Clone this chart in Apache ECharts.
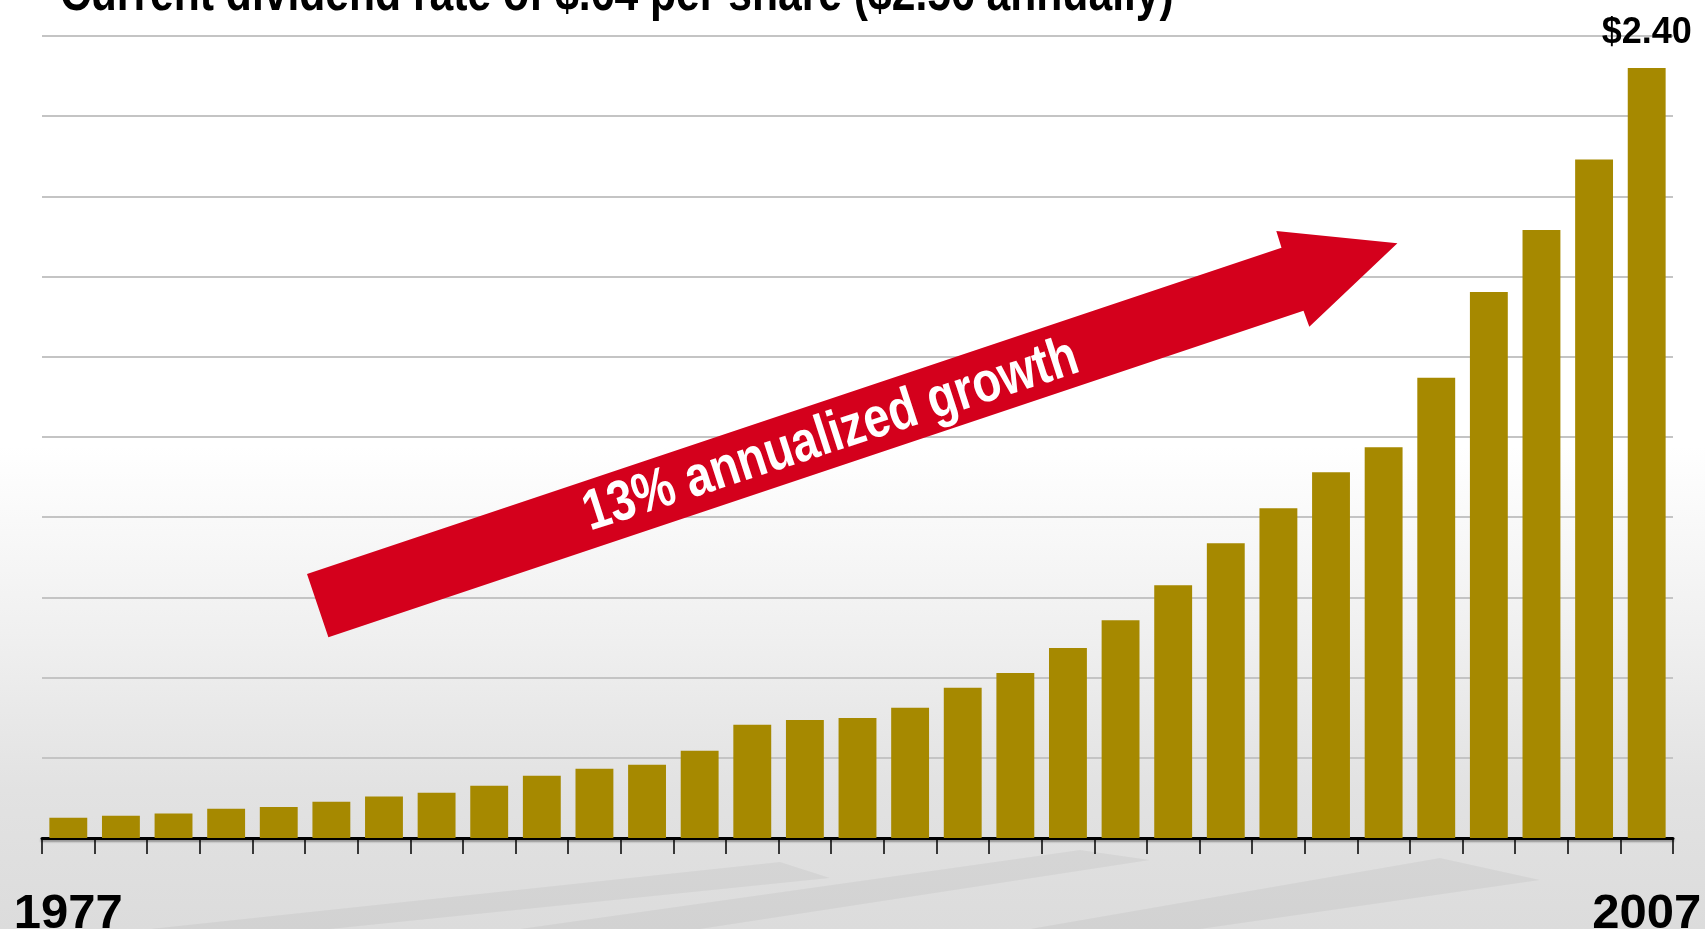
<!DOCTYPE html>
<html>
<head>
<meta charset="utf-8">
<script src="https://cdn.jsdelivr.net/npm/echarts@6/dist/echarts.min.js"></script>
<style>
html,body{margin:0;padding:0;background:#fff;}
#chart{width:1705px;height:929px;}
</style>
</head>
<body>
<div id="chart"></div>
<script>
// ---- data ----
const years = [1977,1978,1979,1980,1981,1982,1983,1984,1985,1986,1987,1988,1989,1990,1991,1992,1993,1994,1995,1996,1997,1998,1999,2000,2001,2002,2003,2004,2005,2006,2007];
const dividends = [0.063,0.069,0.076,0.091,0.097,0.113,0.129,0.141,0.163,0.194,0.216,0.228,0.272,0.353,0.368,0.374,0.406,0.468,0.514,0.592,0.679,0.788,0.919,1.028,1.140,1.218,1.435,1.702,1.895,2.115,2.40];
const yTicks = [0,0.25,0.5,0.75,1,1.25,1.5,1.75,2,2.25,2.5];
const titleText = 'Current dividend rate of $.64 per share ($2.56 annually)';
const lastLabel = '$2.40';
const arrowText = '13% annualized growth';

const chart = echarts.init(document.getElementById('chart'), null, {renderer:'canvas'});
const FONT = '"Liberation Sans", Arial, Helvetica, sans-serif';
const lastIdx = years.length - 1;

const barData = dividends.map((v, i) => i === lastIdx
  ? {value: v, label: {show: true, position: 'top', distance: 17, formatter: lastLabel,
      color: '#000', fontFamily: FONT, fontWeight: 'bold', fontSize: 36}}
  : v);

const option = {
  animation: false,
  backgroundColor: {
    type: 'linear', x: 0, y: 0, x2: 0, y2: 1,
    colorStops: [
      {offset: 0, color: '#ffffff'},
      {offset: 0.48, color: '#ffffff'},
      {offset: 0.68, color: '#f0f0f0'},
      {offset: 0.85, color: '#e2e2e2'},
      {offset: 1, color: '#dcdcdc'}
    ]
  },
  grid: {left: 42, right: 32, top: 36, bottom: 91, containLabel: false, outerBoundsMode: 'none'},
  xAxis: {
    type: 'category',
    data: years,
    boundaryGap: true,
    axisLine: {show: true, lineStyle: {color: '#000', width: 3, shadowColor: 'rgba(0,0,0,0.35)', shadowOffsetY: 2, shadowBlur: 2}},
    axisTick: {show: true, interval: 0, length: 16, lineStyle: {color: '#000', width: 1.5}},
    axisLabel: {
      interval: 0, margin: 52, hideOverlap: false,
      formatter: (v, i) => (i === 0 || i === lastIdx) ? String(v) : '',
      color: '#000', fontFamily: FONT, fontWeight: 'bold', fontSize: 49
    },
    splitLine: {show: false}
  },
  yAxis: {
    type: 'value', min: yTicks[0], max: yTicks[yTicks.length - 1], interval: yTicks[1] - yTicks[0],
    axisLine: {show: false}, axisTick: {show: false}, axisLabel: {show: false},
    splitLine: {show: true, lineStyle: {color: '#c4c4c4', width: 2}}
  },
  series: [{
    type: 'bar',
    data: barData,
    barCategoryGap: '28%',
    itemStyle: {color: '#a68900'},
    z: 3
  }],
  graphic: [
    // faint decorative background bands
    {type: 'polygon', z: -10, silent: true,
      shape: {points: [[150, 929], [780, 862], [830, 878], [330, 929]]},
      style: {fill: 'rgba(0,0,0,0.045)'}},
    {type: 'polygon', z: -10, silent: true,
      shape: {points: [[520, 929], [1080, 850], [1150, 860], [700, 929]]},
      style: {fill: 'rgba(0,0,0,0.045)'}},
    {type: 'polygon', z: -10, silent: true,
      shape: {points: [[1030, 929], [1440, 858], [1540, 880], [1200, 929]]},
      style: {fill: 'rgba(0,0,0,0.045)'}},
    // title (partly above the top edge), horizontally condensed
    {type: 'text', x: 60, y: 22, z: 10, scaleX: 0.82, scaleY: 1, silent: true,
      style: {text: titleText, x: 0, y: 0, fill: '#000', font: 'bold 52px ' + FONT, align: 'left', verticalAlign: 'bottom'}},
    // red arrow
    {type: 'polygon', z: 20, silent: true,
      shape: {points: [[307, 574], [1281.5, 247.7], [1276.3, 231], [1397.4, 243.3], [1309.3, 326.7], [1303.5, 310.7], [328.4, 637.3]]},
      style: {fill: '#d4001c'}},
    {type: 'text', x: 831, y: 436, z: 21, rotation: 18 * Math.PI / 180, scaleX: 0.82, scaleY: 1, silent: true,
      style: {text: arrowText, x: 0, y: 0, fill: '#fff', font: 'bold 57px ' + FONT, align: 'center', verticalAlign: 'middle'}}
  ]
};
chart.setOption(option);
</script>
</body>
</html>
